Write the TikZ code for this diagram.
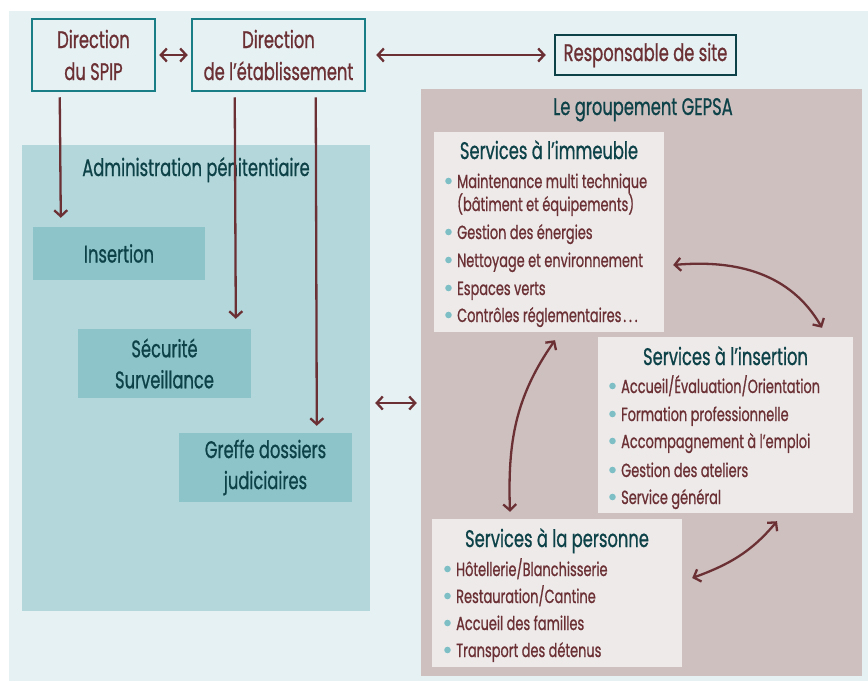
\documentclass[tikz,border=0pt]{standalone}
\usepackage{fontspec}
\usetikzlibrary{arrows.meta}
\newfontfamily\ff[FakeStretch=0.68,FakeBold=0.8]{Poppins}
\definecolor{bgc}{HTML}{E6F1F3}
\definecolor{apc}{HTML}{B4D7DB}
\definecolor{subc}{HTML}{8DC4C9}
\definecolor{gepsac}{HTML}{CFC0C0}
\definecolor{svcc}{HTML}{EEEAEA}
\definecolor{tealb}{HTML}{1A7E86}
\definecolor{darkt}{HTML}{0D4248}
\definecolor{maroon}{HTML}{6B3034}
\definecolor{bulc}{HTML}{7DBFC5}
\begin{document}
\begin{tikzpicture}[x=1pt,y=-1pt,
  >={Straight Barb[length=6pt,width=13pt]},
  arr/.style={draw=maroon, line width=2.3pt},
  region/.style={draw=none, inner sep=0pt},
  topbox/.style={draw=tealb, line width=2.5pt, fill=bgc, inner sep=0pt, text=maroon, align=center, font=\ff\fontsize{24}{32}\selectfont},
  subbox/.style={fill=subc, inner sep=0pt, text=darkt, align=center, font=\ff\fontsize{24}{31}\selectfont},
  svcbox/.style={fill=svcc, inner sep=0pt},
  regtitle/.style={anchor=base, inner sep=0pt, text=darkt, font=\ff\fontsize{24}{28}\selectfont},
  svctitle/.style={anchor=base, inner sep=0pt, text=darkt, font=\ff\fontsize{24}{28}\selectfont},
  item/.style={anchor=base west, inner sep=0pt, text=maroon, font=\ff\fontsize{19}{23}\selectfont},
  bullet/.pic={\fill[bulc] (0,0) circle (3.3pt);}
]
\useasboundingbox (0,0) rectangle (868,681);
\fill[white] (0,0) rectangle (868,681);
\fill[bgc] (9,11) rectangle (868,681);

% regions
\node[region, fill=gepsac, minimum width=441pt, minimum height=587pt] (gepsa) at (641.5,382.5) {};
\node[region, fill=apc, minimum width=348pt, minimum height=466pt] (admin) at (196,378) {};
\node[regtitle] (gepsat) at (643,115) {Le groupement GEPSA};
\node[regtitle] (admint) at (196,176) {Administration pénitentiaire};

% top boxes
\node[topbox, minimum width=123pt, minimum height=72pt] (spip) at (93.5,55) {Direction\\du SPIP};
\node[topbox, minimum width=173pt, minimum height=72pt] (dir) at (278.5,55) {Direction\\de l’établissement};
\node[topbox, draw=darkt, minimum width=181pt, minimum height=40pt] (resp) at (645.5,55) {Responsable de site};

% administration sub boxes
\node[subbox, minimum width=172pt, minimum height=53pt] (ins) at (119,253.5) {Insertion};
\node[subbox, minimum width=173pt, minimum height=69pt] (secu) at (164.5,363.5) {Sécurité\\Surveillance};
\node[subbox, minimum width=173pt, minimum height=69pt] (greffe) at (265.5,467.5) {Greffe dossiers\\judiciaires};

% service boxes
\node[svcbox, minimum width=230pt, minimum height=200pt] (imm) at (549,232) {};
\node[svcbox, minimum width=255pt, minimum height=176pt] (sins) at (725.5,425) {};
\node[svcbox, minimum width=250pt, minimum height=148pt] (per) at (557,593) {};

\node[svctitle] (immt) at (549,159) {Services à l’immeuble};
\node[svctitle] (sinst) at (725.5,365) {Services à l’insertion};
\node[svctitle] (pert) at (557,547) {Services à la personne};

% items immeuble
\node[item] (a1) at (457,188) {Maintenance multi technique};
\node[item] (a1b) at (457,211) {(bâtiment et équipements)};
\node[item] (a2) at (457,239) {Gestion des énergies};
\node[item] (a3) at (457,267) {Nettoyage et environnement};
\node[item] (a4) at (457,295) {Espaces verts};
\node[item] (a5) at (457,322) {Contrôles réglementaires\kern2pt.\kern3pt.\kern3pt.};
% items insertion
\node[item] (b1) at (621,393) {Accueil/Évaluation/Orientation};
\node[item] (b2) at (621,421) {Formation professionnelle};
\node[item] (b3) at (621,448) {Accompagnement à l’emploi};
\node[item] (b4) at (621,477) {Gestion des ateliers};
\node[item] (b5) at (621,504) {Service général};
% items personne
\node[item] (c1) at (456,576) {Hôtellerie/Blanchisserie};
\node[item] (c2) at (456,603) {Restauration/Cantine};
\node[item] (c3) at (456,630) {Accueil des familles};
\node[item] (c4) at (456,657) {Transport des détenus};

\foreach \n in {a1,a2,a3,a4,a5,b1,b2,b3,b4,b5,c1,c2,c3,c4}
  \pic at ([xshift=-8.5pt,yshift=7pt]\n.base west) {bullet};

% connectors
\draw[arr,<->,shorten <=3pt,shorten >=3pt] (spip) -- (dir);
\draw[arr,<->,shorten <=10pt,shorten >=8pt] (dir) -- (resp);
\draw[arr,->] ([xshift=29pt,yshift=-5pt]spip.south west) -- ([xshift=28pt,yshift=9pt]ins.north west);
\draw[arr,->] ([xshift=44pt,yshift=-5pt]dir.south west) -- ([xshift=158pt,yshift=10pt]secu.north west);
\draw[arr,->] ([xshift=125pt,yshift=-5pt]dir.south west) -- ([xshift=138pt,yshift=7pt]greffe.north west);
\draw[arr,<->] ([xshift=5pt,yshift=-25pt]admin.east) -- ([xshift=-4pt,yshift=-20.5pt]gepsa.west);

\draw[arr,<->] ([xshift=9pt,yshift=-33pt]imm.east) to[out=5,in=120] ([xshift=96.5pt,yshift=9pt]sins.north);
\draw[arr,<->] ([xshift=6pt,yshift=-8pt]imm.south) to[out=-125,in=92] ([xshift=-47pt,yshift=7pt]per.north);
\draw[arr,<->] ([xshift=10pt,yshift=15pt]per.east) to[out=20,in=-130] ([xshift=51.5pt,yshift=-8pt]sins.south);
\end{tikzpicture}
\end{document}
